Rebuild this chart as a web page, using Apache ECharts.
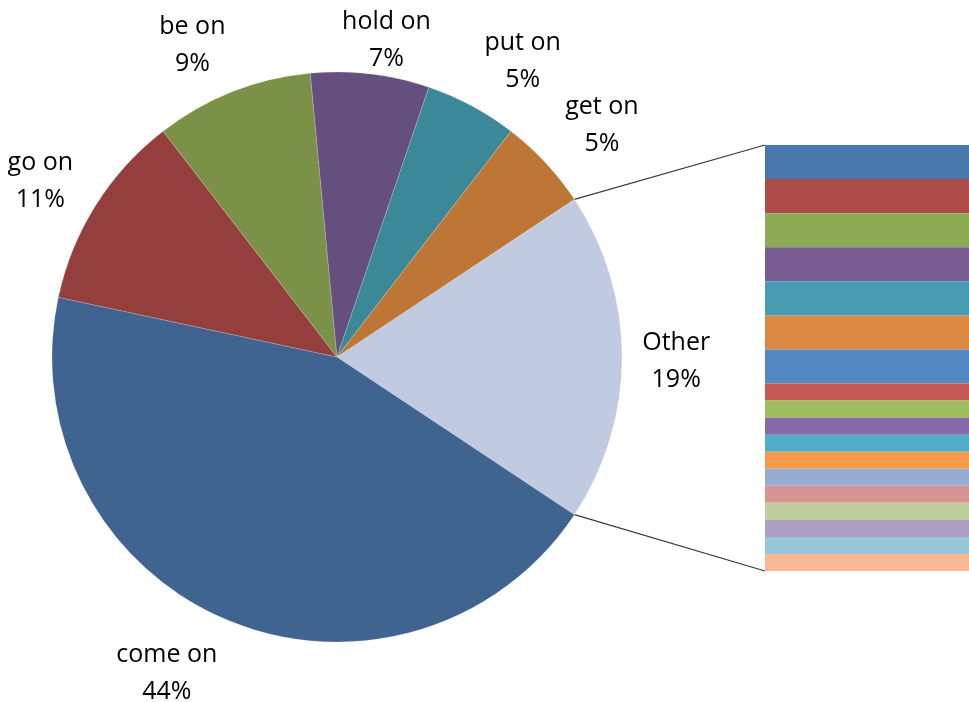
<!DOCTYPE html>
<html>
<head>
<meta charset="utf-8">
<script src="https://cdn.jsdelivr.net/npm/echarts@6/dist/echarts.min.js"></script>
<style>
  html, body { margin: 0; padding: 0; background: #ffffff; }
  #chart { width: 969px; height: 702px; }
</style>
</head>
<body>
<div id="chart"></div>
<script>
// Phrase counts shown as pie slices
const sliceNames = ['come on', 'go on', 'be on', 'hold on', 'put on', 'get on'];
const sliceValues = [59, 15, 12, 9, 7, 7];
// The "Other" slice, broken down in the stacked bar on the right
const otherName = 'Other';
const otherParts = [2, 2, 2, 2, 2, 2, 2, 1, 1, 1, 1, 1, 1, 1, 1, 1, 1, 1];

const sliceColors = ['#C0CBE2', '#3F6490', '#943F3E', '#7B9147', '#644F7E', '#3B8899', '#BD7636'];
const partColors = ['#4A78AD', '#AD4B49', '#8DAA55', '#775D92', '#479CB3', '#DC8944',
  '#5388C3', '#C45855', '#9FBE5F', '#8669A6', '#51AEC8', '#F79A4B',
  '#97ACD3', '#D69594', '#BECF9D', '#AE9FC2', '#96C7D8', '#F9B995'];

const otherTotal = otherParts.reduce((a, b) => a + b, 0);
const pieNames = [otherName].concat(sliceNames);
const pieValues = [otherTotal].concat(sliceValues);
const total = pieValues.reduce((a, b) => a + b, 0);

const CX = 337, CY = 357, R = 285;
// "Other" slice centred on the horizontal axis, slices run clockwise
const startAngle = otherTotal / total * 180;

const GRID = { left: 765, top: 145, right: 0, bottom: 131 };
const LABEL_FONT = '25px "Open Sans"';

// mid-angle (degrees, counter-clockwise from 3 o'clock) of each slice
const midAngles = [];
(function () {
  let acc = 0;
  pieValues.forEach(v => {
    midAngles.push(startAngle - (acc + v / 2) / total * 360);
    acc += v;
  });
})();

// width of a label's widest line
const measureCtx = document.createElement('canvas').getContext('2d');
function labelWidth(text) {
  measureCtx.font = LABEL_FONT;
  return Math.max.apply(null, text.split('\n').map(t => measureCtx.measureText(t).width));
}

function clamp(t) { return Math.max(-1, Math.min(1, t)); }
// how far a label box shifts vertically off its anchor, by direction
function vShift(s) {
  const m = Math.max(0, Math.min(1, (Math.abs(s) - 0.35) * 2.8));
  return s < 0 ? -m : m;
}

const chart = echarts.init(document.getElementById('chart'), null, { renderer: 'canvas' });

const barSeries = otherParts.map((v, i) => ({
  type: 'bar',
  stack: 'other',
  xAxisIndex: 0,
  yAxisIndex: 0,
  barWidth: '100%',
  data: [v],
  itemStyle: { color: partColors[i] },
  silent: true
}));

const option = {
  backgroundColor: '#ffffff',
  animation: false,
  grid: GRID,
  xAxis: { type: 'category', data: [''], show: false, boundaryGap: true },
  yAxis: { type: 'value', min: 0, max: otherTotal, inverse: true, show: false },
  series: [{
    type: 'pie',
    center: [CX, CY],
    radius: [0, R],
    startAngle: startAngle,
    clockwise: true,
    percentPrecision: 0,
    silent: true,
    avoidLabelOverlap: false,
    data: pieNames.map((n, i) => ({ name: n, value: pieValues[i], itemStyle: { color: sliceColors[i] } })),
    itemStyle: { borderColor: 'rgba(255,255,255,0.35)', borderWidth: 0.5 },
    label: {
      show: true,
      position: 'outside',
      formatter: '{b}\n{d}%',
      fontFamily: 'Open Sans',
      fontSize: 25,
      lineHeight: 37,
      color: '#000000',
      overflow: 'none'
    },
    labelLine: { show: false },
    labelLayout: function (params) {
      const a = midAngles[params.dataIndex] * Math.PI / 180;
      const c = Math.cos(a), s = Math.sin(a);
      const gap = 27;
      const ax = CX + (R + gap) * c;
      const ay = CY - (R + gap) * s;
      const w = labelWidth(params.text);
      const h = 50;
      let x = ax + w / 2 * clamp(2.5 * c) * (Math.abs(c) > 0.95 ? 0.8 : 1);
      let y = ay - h / 2 * vShift(s) + 4;
      y = Math.max(y, 40);
      return { x: x, y: y, align: 'center', verticalAlign: 'middle' };
    }
  }].concat(barSeries)
};

chart.setOption(option);

// Connector lines from the edges of the "Other" slice to the bar corners
(function () {
  const a1 = startAngle * Math.PI / 180;
  const a2 = (startAngle - otherTotal / total * 360) * Math.PI / 180;
  const p1 = [CX + R * Math.cos(a1), CY - R * Math.sin(a1)];
  const p2 = [CX + R * Math.cos(a2), CY - R * Math.sin(a2)];
  const top = chart.convertToPixel({ gridIndex: 0 }, [0, 0]);
  const bottom = chart.convertToPixel({ gridIndex: 0 }, [0, otherTotal]);
  const barLeft = GRID.left;
  chart.setOption({
    graphic: [
      { type: 'line', shape: { x1: p1[0], y1: p1[1], x2: barLeft, y2: top[1] },
        style: { stroke: '#3a3a3a', lineWidth: 1.2 }, silent: true },
      { type: 'line', shape: { x1: p2[0], y1: p2[1], x2: barLeft, y2: bottom[1] },
        style: { stroke: '#3a3a3a', lineWidth: 1.2 }, silent: true }
    ]
  });
})();
</script>
</body>
</html>
